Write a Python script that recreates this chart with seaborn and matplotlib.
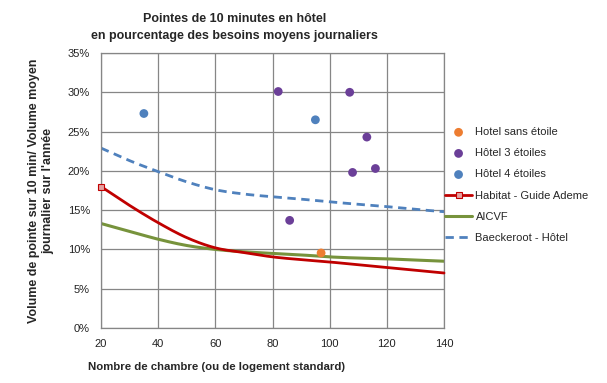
import numpy as np
import pandas as pd
import seaborn as sns
import matplotlib.pyplot as plt
from matplotlib.ticker import PercentFormatter

sns.set_style("white")
plt.rcParams['font.family'] = ['Liberation Sans', 'DejaVu Sans']

# hotel measurements (rooms, peak %)
sans_x = [97]
sans_y = [9.55]
h3_x = [82, 107, 113, 116, 108, 86]
h3_y = [30.1, 30.0, 24.3, 20.3, 19.8, 13.7]
h4_x = [35, 95]
h4_y = [27.3, 26.5]

# curves
curve_x = [20, 30, 40, 50, 60, 70, 80, 90, 100, 110, 120, 130, 140]
habitat = [18.0, 15.6, 13.4, 11.5, 10.2, 9.6, 9.05, 8.7, 8.4, 8.05, 7.7, 7.35, 7.0]
aicvf = [13.3, 12.3, 11.3, 10.5, 10.0, 9.7, 9.5, 9.3, 9.05, 8.9, 8.8, 8.65, 8.5]
baeckeroot = [22.9, 21.3, 19.9, 18.6, 17.6, 17.05, 16.7, 16.4, 16.05, 15.75, 15.45, 15.1, 14.8]


def smooth(xv, yv):
    # catmull-rom through the read points (excel "smoothed line")
    pts = np.column_stack([xv, yv]).astype(float)
    out = []
    for i in range(len(pts) - 1):
        p0 = pts[i - 1] if i > 0 else pts[i]
        p1, p2 = pts[i], pts[i + 1]
        p3 = pts[i + 2] if i + 2 < len(pts) else pts[i + 1]
        for t in np.linspace(0, 1, 16, endpoint=False):
            t2, t3 = t * t, t * t * t
            out.append(0.5 * ((2 * p1) + (-p0 + p2) * t + (2 * p0 - 5 * p1 + 4 * p2 - p3) * t2
                              + (-p0 + 3 * p1 - 3 * p2 + p3) * t3))
    out.append(pts[-1])
    out = np.array(out)
    return out[:, 0], out[:, 1]


fig = plt.figure(figsize=(6.07, 3.83), dpi=100)
ax = fig.add_axes([0.1664, 0.1436, 0.5651, 0.718])

sns.scatterplot(x=sans_x, y=sans_y, ax=ax, color='#ED7D31', s=40, edgecolor='none',
                label='Hotel sans étoile', zorder=5)
sns.scatterplot(x=h3_x, y=h3_y, ax=ax, color='#6B3F98', s=40, edgecolor='none',
                label='Hôtel 3 étoiles', zorder=5)
sns.scatterplot(x=h4_x, y=h4_y, ax=ax, color='#4F81BD', s=40, edgecolor='none',
                label='Hôtel 4 étoiles', zorder=5)

hx, hy = smooth(curve_x, habitat)
gx, gy = smooth(curve_x, aicvf)
bx, by = smooth(curve_x, baeckeroot)

sns.lineplot(x=hx, y=hy, ax=ax, color='#C00000', linewidth=2, sort=False,
             marker='s', markevery=[0], markersize=4, markerfacecolor='#E6A0A0',
             markeredgecolor='#C00000', markeredgewidth=0.8, label='Habitat - Guide Ademe',
             clip_on=False, zorder=4)
sns.lineplot(x=gx, y=gy, ax=ax, color='#77933C', linewidth=2.2, sort=False, label='AICVF')
sns.lineplot(x=bx, y=by, ax=ax, color='#4F81BD', linewidth=2, sort=False, label='Baeckeroot - Hôtel')
ax.lines[-1].set_dashes([3, 2])

ax.set_xlim(20, 140)
ax.set_ylim(0, 35)
ax.set_xticks(range(20, 141, 20))
ax.set_yticks(range(0, 36, 5))
ax.yaxis.set_major_formatter(PercentFormatter(decimals=0))
ax.grid(True, color='#868686', linewidth=0.9)
for sp in ax.spines.values():
    sp.set_color('#868686')
    sp.set_linewidth(0.9)
ax.tick_params(axis='both', labelsize=8, length=0, colors='#222222', pad=8)

ax.set_xlabel('')
ax.set_ylabel("Volume de pointe sur 10 min/ Volume moyen\njournalier sur l'année",
              fontsize=9, fontweight='bold', labelpad=10)
fig.text(0.357, 0.042, 'Nombre de chambre (ou de logement standard)', fontsize=8.2,
         fontweight='bold', ha='center', va='center')
fig.text(0.387, 0.928, 'Pointes de 10 minutes en hôtel\nen pourcentage des besoins moyens journaliers',
         fontsize=9, fontweight='bold', ha='center', va='center', linespacing=1.6)

leg = ax.legend(loc='center left', bbox_to_anchor=(0.98, 0.52), frameon=False, fontsize=8,
                handlelength=2.45, labelspacing=1.0, handletextpad=0.3, borderaxespad=0.3)

fig.savefig('out.png', dpi=100)
